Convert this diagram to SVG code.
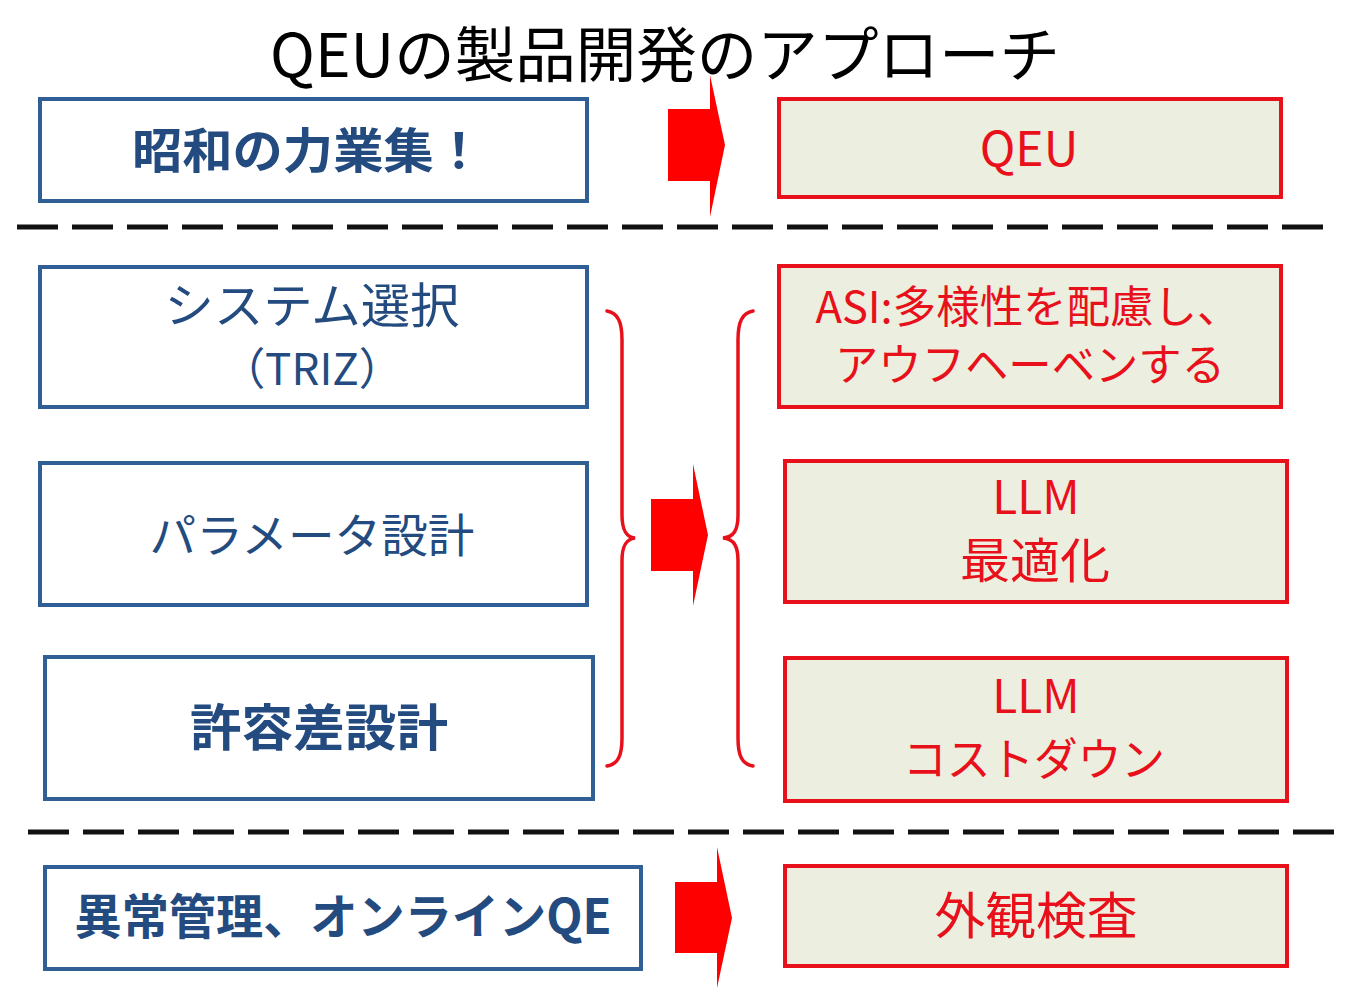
<svg xmlns="http://www.w3.org/2000/svg" width="1350" height="1006" viewBox="0 0 1350 1006">
<style>
.bbox{fill:#ffffff;stroke:#2F5F95;stroke-width:4}
.rbox{fill:#ECEEDF;stroke:#E8101A;stroke-width:4}
.bt{font-family:"Noto Sans CJK JP","Noto Sans",sans-serif;fill:#234B7F;text-anchor:middle}
.rt{font-family:"Noto Sans CJK JP","Noto Sans",sans-serif;fill:#E8101A;text-anchor:middle}
.b{font-weight:bold}
.dash{stroke:#111111;stroke-width:5;stroke-dasharray:41 14;fill:none}
.arrow{fill:#FF0000}
.brace{fill:none;stroke:#E8101A;stroke-width:3.5;stroke-linecap:round}
</style>
<rect width="1350" height="1006" fill="#ffffff"/>
<text x="665" y="77" font-family="'Noto Sans CJK JP','Noto Sans',sans-serif" font-size="60" fill="#000000" text-anchor="middle" textLength="790" lengthAdjust="spacingAndGlyphs">QEUの製品開発のアプローチ</text>

<g id="connectors">
<line class="dash" x1="17" y1="227" x2="1329" y2="227"/>
<line class="dash" x1="28" y1="832" x2="1335" y2="832"/>
<polygon class="arrow" points="668,109 710,109 710,75 725,145 710,217 710,181 668,181"/>
<polygon class="arrow" points="651,499 693,499 693,464 708,535 693,606 693,571 651,571"/>
<polygon class="arrow" points="675,882 717,882 717,847 732,918 717,988 717,953 675,953"/>
<path class="brace" d="M607,311 C618,313 622,322 622,340 L622,515 C622,530 626,537 635,538 C626,539 622,546 622,561 L622,738 C622,756 618,764 607,766"/>
<path class="brace" d="M753,311 C742,313 738,322 738,340 L738,515 C738,530 734,537 723,538 C734,539 738,546 738,561 L738,738 C738,756 742,764 753,766"/>
</g>

<g id="n1">
<rect class="bbox" x="40" y="99" width="547" height="102"/>
<text class="bt b" x="308" y="168" font-size="48" textLength="352" lengthAdjust="spacingAndGlyphs">昭和の力業集！</text>
</g>
<g id="n2">
<rect class="rbox" x="779" y="99" width="502" height="98"/>
<text class="rt" x="1029" y="166" font-size="48">QEU</text>
</g>

<g id="n3">
<rect class="bbox" x="40" y="267" width="547" height="140"/>
<text class="bt" x="312" y="323" font-size="48" textLength="295" lengthAdjust="spacingAndGlyphs">システム選択</text>
<text class="bt" x="312" y="385" font-size="44">（TRIZ）</text>
</g>
<g id="n4">
<rect class="bbox" x="40" y="463" width="547" height="142"/>
<text class="bt" x="312" y="552" font-size="46" textLength="325" lengthAdjust="spacingAndGlyphs">パラメータ設計</text>
</g>
<g id="n5">
<rect class="bbox" x="45" y="657" width="548" height="142"/>
<text class="bt b" x="319" y="746" font-size="50" textLength="258" lengthAdjust="spacingAndGlyphs">許容差設計</text>
</g>

<g id="n6">
<rect class="rbox" x="779" y="266" width="502" height="141"/>
<text class="rt" x="1028" y="323" font-size="44" textLength="425" lengthAdjust="spacingAndGlyphs">ASI:多様性を配慮し、</text>
<text class="rt" x="1030" y="381" font-size="44" textLength="390" lengthAdjust="spacingAndGlyphs">アウフヘーベンする</text>
</g>
<g id="n7">
<rect class="rbox" x="785" y="461" width="502" height="141"/>
<text class="rt" x="1036" y="514" font-size="46">LLM</text>
<text class="rt" x="1035" y="578" font-size="48" textLength="150" lengthAdjust="spacingAndGlyphs">最適化</text>
</g>
<g id="n8">
<rect class="rbox" x="785" y="658" width="502" height="143"/>
<text class="rt" x="1036" y="713" font-size="46">LLM</text>
<text class="rt" x="1034" y="776" font-size="45" textLength="262" lengthAdjust="spacingAndGlyphs">コストダウン</text>
</g>

<g id="n9">
<rect class="bbox" x="45" y="867" width="596" height="102"/>
<text class="bt b" x="343" y="934" font-size="48" textLength="537" lengthAdjust="spacingAndGlyphs">異常管理、オンラインQE</text>
</g>
<g id="n10">
<rect class="rbox" x="785" y="866" width="502" height="100"/>
<text class="rt" x="1036" y="934" font-size="50" textLength="203" lengthAdjust="spacingAndGlyphs">外観検査</text>
</g>
</svg>
